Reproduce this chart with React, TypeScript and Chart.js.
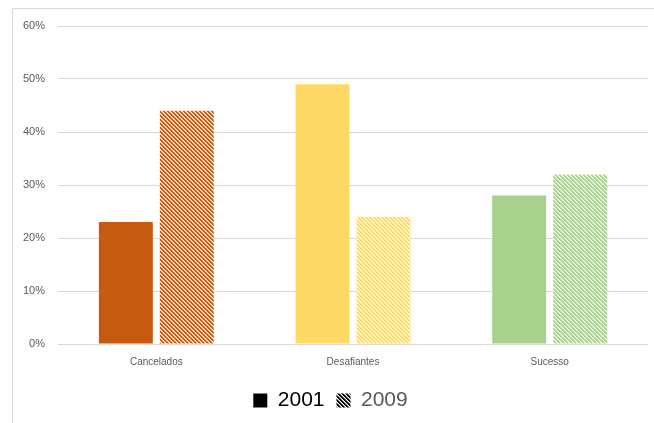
import React, { useEffect, useRef } from "react";
import { Chart, registerables } from "chart.js";

Chart.register(...registerables);

const categories = ["Cancelados", "Desafiantes", "Sucesso"];
const values2001 = [23, 49, 28];
const values2009 = [44, 24, 32];
const seriesLabels = ["2001", "2009"];
const yTicks = [0, 10, 20, 30, 40, 50, 60];

const solidColors = ["#C55A11", "#FFD966", "#A9D18E"];

const FONT = "'Liberation Sans', Arial, sans-serif";

// Downward diagonal hatch, coloured stripes on white
function makeHatch(color: string): CanvasPattern | string {
  const size = 4;
  const c = document.createElement("canvas");
  c.width = size;
  c.height = size;
  const ctx = c.getContext("2d");
  if (!ctx) return color;
  ctx.fillStyle = "#ffffff";
  ctx.fillRect(0, 0, size, size);
  for (let y = 0; y < size; y++) {
    for (let x = 0; x < size; x++) {
      const d = (((x - y) % size) + size) % size;
      if (d === 0 || d === 1) {
        ctx.globalAlpha = 1;
        ctx.fillStyle = color;
        ctx.fillRect(x, y, 1, 1);
      } else if (d === 2) {
        ctx.globalAlpha = 0.45;
        ctx.fillStyle = color;
        ctx.fillRect(x, y, 1, 1);
      }
    }
  }
  const p = ctx.createPattern(c, "repeat");
  return p || color;
}

const framePlugin = {
  id: "frame",
  beforeDraw(chart: Chart) {
    const ctx = chart.ctx;
    ctx.save();
    ctx.strokeStyle = "#d9d9d9";
    ctx.lineWidth = 1;
    ctx.beginPath();
    ctx.moveTo(12.5, chart.height);
    ctx.lineTo(12.5, 8.5);
    ctx.lineTo(chart.width, 8.5);
    ctx.stroke();
    ctx.restore();
  },
};

export default function App() {
  const ref = useRef<HTMLCanvasElement | null>(null);

  useEffect(() => {
    if (!ref.current) return;
    const hatched = solidColors.map((c) => makeHatch(c));
    const legendHatch = makeHatch("#000000");

    const chart = new Chart(ref.current, {
      type: "bar",
      data: {
        labels: categories,
        datasets: [
          {
            label: seriesLabels[0],
            data: values2001,
            backgroundColor: solidColors,
            borderWidth: 0,
            barPercentage: 0.885,
            categoryPercentage: 0.62,
          },
          {
            label: seriesLabels[1],
            data: values2009,
            backgroundColor: hatched as any,
            borderWidth: 0,
            barPercentage: 0.885,
            categoryPercentage: 0.62,
          },
        ],
      },
      options: {
        animation: false,
        responsive: false,
        maintainAspectRatio: false,
        layout: { padding: { left: 13, right: 6, top: 26, bottom: 2 } },
        scales: {
          x: {
            grid: { display: false },
            border: { display: false },
            afterFit(scale: any) {
              scale.height += 6;
            },
            ticks: {
              color: "#595959",
              font: { family: FONT, size: 10 },
              padding: 4,
            },
          },
          y: {
            min: 0,
            max: 60,
            afterBuildTicks(scale: any) {
              scale.ticks = yTicks.map((v) => ({ value: v }));
            },
            afterFit(scale: any) {
              scale.width = 45;
            },
            grid: { color: "#d9d9d9", drawTicks: false },
            border: { display: false },
            ticks: {
              color: "#595959",
              font: { family: FONT, size: 11 },
              padding: 13,
              callback: (v: any) => `${v}%`,
            },
          },
        },
        plugins: {
          tooltip: { enabled: false },
          legend: {
            position: "bottom",
            labels: {
              boxWidth: 14,
              boxHeight: 14,
              padding: 12,
              font: { family: FONT, size: 21 },
              generateLabels: () => [
                {
                  text: seriesLabels[0],
                  fillStyle: "#000000",
                  strokeStyle: "rgba(0,0,0,0)",
                  lineWidth: 0,
                  fontColor: "#000000",
                  hidden: false,
                  datasetIndex: 0,
                },
                {
                  text: seriesLabels[1],
                  fillStyle: legendHatch as any,
                  strokeStyle: "rgba(0,0,0,0)",
                  lineWidth: 0,
                  fontColor: "#595959",
                  hidden: false,
                  datasetIndex: 1,
                },
              ],
            },
          },
        },
      },
      plugins: [framePlugin],
    });
    return () => chart.destroy();
  }, []);

  return (
    <div style={{ position: "fixed", left: 0, top: 0, width: 654, height: 423, background: "#ffffff" }}>
      <canvas ref={ref} width={654} height={423} style={{ display: "block" }} />
    </div>
  );
}
